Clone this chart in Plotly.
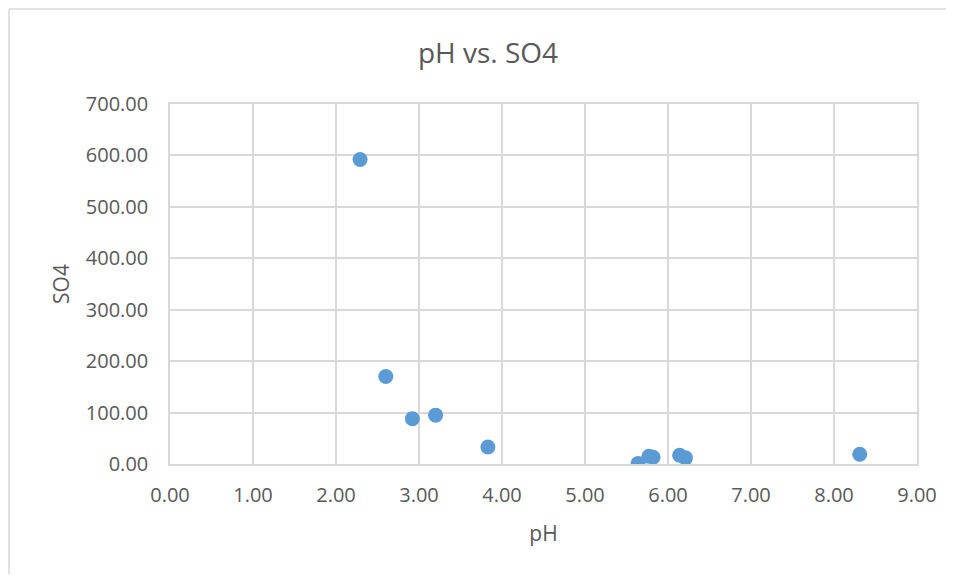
import plotly.graph_objects as go

ph = [2.29, 2.60, 2.92, 3.20, 3.83, 5.64, 5.77, 5.82, 6.14, 6.21, 8.31]
so4 = [592, 170, 88, 95, 33, 1, 15, 13, 17, 12, 19]

x_ticks = [0, 1, 2, 3, 4, 5, 6, 7, 8, 9]
y_ticks = [0, 100, 200, 300, 400, 500, 600, 700]

font_family = "Open Sans"
text_color = "#595959"
grid_color = "#D9D9D9"

W, H = 940, 566
L, T = 162, 96
PW, PH = 747, 360

fig = go.Figure()
fig.add_trace(go.Scatter(
    x=ph, y=so4, mode="markers",
    marker=dict(size=15, color="#5B9BD5", line=dict(width=0)),
    showlegend=False,
))

fig.update_layout(
    width=W, height=H,
    margin=dict(l=L, r=W - L - PW, t=T, b=H - T - PH, pad=0),
    paper_bgcolor="white", plot_bgcolor="white",
    font=dict(family=font_family, color=text_color),
    title=dict(text="pH vs. SO4", x=480 / W, xref="container", xanchor="center",
               y=1 - 45 / H, yref="container", yanchor="middle",
               font=dict(size=28, color=text_color, family=font_family)),
    xaxis=dict(
        range=[0, 9], tickvals=x_ticks, tickformat=".2f",
        showgrid=True, gridcolor=grid_color, gridwidth=1.5,
        zeroline=False, showline=True, linecolor=grid_color, linewidth=1.5, mirror=True,
        ticks="", tickfont=dict(size=20, color=text_color), ticklabelstandoff=12,
        title=dict(text="pH", font=dict(size=21, color=text_color), standoff=20),
    ),
    yaxis=dict(
        range=[0, 700], tickvals=y_ticks, tickformat=".2f",
        showgrid=True, gridcolor=grid_color, gridwidth=1.5,
        zeroline=False, showline=True, linecolor=grid_color, linewidth=1.5, mirror=True,
        ticks="", tickfont=dict(size=20, color=text_color), ticklabelstandoff=16,
        title=dict(text="SO4", font=dict(size=21, color=text_color), standoff=10),
    ),
)

# chart-area border (left and top edges visible in the reference)
border_x = (1 - L) / PW
border_y = (T + PH - 1) / PH
fig.add_shape(type="line", xref="paper", yref="paper",
              x0=border_x, x1=border_x, y0=-(H - T - PH) / PH, y1=border_y,
              line=dict(color="#D9D9D9", width=1.5), layer="below")
fig.add_shape(type="line", xref="paper", yref="paper",
              x0=border_x, x1=(W - L - 2) / PW, y0=border_y, y1=border_y,
              line=dict(color="#D9D9D9", width=1.5), layer="below")

fig.write_html("out.html")
